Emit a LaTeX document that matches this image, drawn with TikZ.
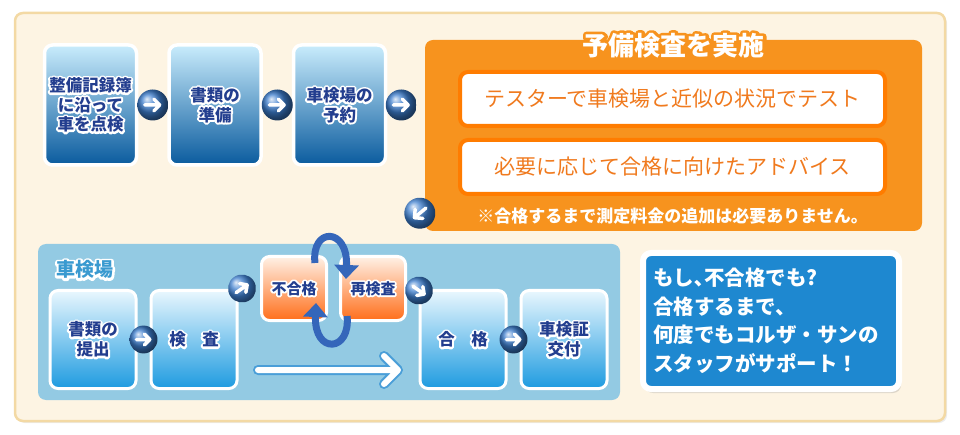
\documentclass[tikz,border=0pt]{standalone}
\usepackage{fontspec}
\newfontfamily\jp{Noto Sans CJK JP}
\newfontfamily\jphalo{Noto Sans CJK JP}[FakeBold=24]
\usetikzlibrary{positioning,calc,arrows.meta,shadows}

\definecolor{cream}{HTML}{FDF4E3}
\definecolor{creamline}{HTML}{F3D9A4}
\definecolor{panelblue}{HTML}{93CAE3}
\definecolor{navy}{HTML}{233E8F}
\definecolor{panelorange}{HTML}{F7931E}
\definecolor{lineorange}{HTML}{FF7C00}
\definecolor{textorange}{HTML}{F07A1E}
\definecolor{msgblue}{HTML}{1E88D0}
\definecolor{loopblue}{HTML}{3566BA}
\definecolor{headblue}{HTML}{3A9AD0}
\definecolor{btnblue}{HTML}{3C7DCD}
\definecolor{skipblue}{HTML}{4A9ED8}

\newcommand\halo[2][white]{\leavevmode\rlap{\color{#1}\jphalo #2}#2}

\tikzset{
  arrowbtn/.pic={
    \shade[ball color=btnblue] (0,0) circle (15.5pt);
    \draw[white, line width=3.5pt, line cap=round, line join=round]
      (-8pt,0) -- (7pt,0) (1pt,6pt) -- (7pt,0) -- (1pt,-6pt);
  },
  topbox/.style={rounded corners=8pt, draw=white, line width=3.5pt,
    top color={rgb,255:red,201;green,236;blue,252}, middle color={rgb,255:red,31;green,141;blue,214},
    bottom color={rgb,255:red,10;green,91;blue,158},
    minimum width=92pt, minimum height=120pt, align=center, text=navy,
    font=\jp\bfseries\fontsize{16.5}{19.5}\selectfont},
  lanebox/.style={rounded corners=8pt, draw=white, line width=3pt,
    top color={rgb,255:red,233;green,247;blue,254}, middle color={rgb,255:red,103;green,189;blue,235},
    bottom color={rgb,255:red,30;green,155;blue,224},
    minimum width=86pt, minimum height=98pt, align=center, text=navy,
    font=\jp\bfseries\fontsize{16.5}{20}\selectfont},
  failbox/.style={lanebox, top color={rgb,255:red,255;green,241;blue,230},
    middle color={rgb,255:red,255;green,154;blue,80}, bottom color={rgb,255:red,255;green,110;blue,26},
    minimum width=65pt, minimum height=64pt},
  testbox/.style={rounded corners=8pt, draw=lineorange, line width=4pt, fill=white,
    minimum width=425pt, minimum height=54pt, text=textorange,
    font=\jp\fontsize{21}{21}\selectfont},
  looparrow/.style={draw=loopblue, line width=7pt, -{Triangle[length=14pt, width=24pt]}},
}

\begin{document}
\begin{tikzpicture}[x=1pt, y=-1pt, >=stealth, line join=round]
  \useasboundingbox (0,0) rectangle (960,435);
  \draw[creamline, line width=2.5pt, fill=cream, rounded corners=8pt,
    drop shadow={opacity=.15, shadow xshift=2pt, shadow yshift=-2pt}] (15,13) rectangle (945,421);

  \node[topbox] (sheet) at (90.5,105) {\halo{整備記録簿}\\\halo{に沿って}\\\halo{車を点検}};
  \node[topbox, right=29pt of sheet] (docs) {\halo{書類の}\\\halo{準備}};
  \node[topbox, right=29pt of docs] (resv) {\halo{車検場の}\\\halo{予約}};

  \node[fill=panelorange, rounded corners=8pt, minimum width=497pt, minimum height=191pt] (pre) at (673.5,135.5) {};
  \node[text=white, font=\jp\bfseries\fontsize{26}{26}\selectfont] (pretitle) at ($(pre.north)+(0,6)$) {\halo[panelorange]{予備検査を実施}};
  \node[testbox] (tester) at (672.5,99) {テスターで車検場と近似の状況でテスト};
  \node[testbox, below=10pt of tester] (advice) {必要に応じて合格に向けたアドバイス};
  \node[text=white, font=\jp\bfseries\fontsize{17}{17}\selectfont] (note) at ($(advice.south)+(0,20)$) {※合格するまで測定料金の追加は必要ありません。};

  \pic at ($(sheet.east)!.5!(docs.west)$) {arrowbtn};
  \pic at ($(docs.east)!.5!(resv.west)$) {arrowbtn};
  \pic at ($(resv.east)+(14,0)$) {arrowbtn};
  \pic[rotate=-140] at ($(pre.south west)+(-5,-18)$) {arrowbtn};

  \node[fill=panelblue, rounded corners=8pt, minimum width=582pt, minimum height=156pt] (station) at (329,322) {};
  \node[text=headblue, font=\jp\bfseries\fontsize{19}{19}\selectfont] (lane) at ($(station.north west)+(47,26)$) {\halo{車検場}};

  \node[lanebox] (submit) at (93,339.5) {\halo{書類の}\\\halo{提出}};
  \node[lanebox, right=12pt of submit] (check) {\halo{検\hspace{1em}査}};
  \node[failbox, font=\jp\bfseries\fontsize{15}{15}\selectfont] (fail) at (294,288.5) {\halo{不合格}};
  \node[failbox, font=\jp\bfseries\fontsize{15}{15}\selectfont, right=11pt of fail] (retest) {\halo{再検査}};
  \node[lanebox] (pass) at (463,339.5) {\halo{合\hspace{1em}格}};
  \node[lanebox, right=12pt of pass] (cert) {\halo{車検証}\\\halo{交付}};

  \pic[scale=.9] at ($(submit.east)!.5!(check.west)$) {arrowbtn};
  \pic[scale=.9, rotate=35] at ($(fail.west)+(-18,0)$) {arrowbtn};
  \pic[scale=.9, rotate=-35] at ($(retest.east)+(12,2)$) {arrowbtn};
  \pic[scale=.9] at ($(pass.east)!.5!(cert.west)$) {arrowbtn};

  \draw[looparrow] ($(fail.north east)+(-13,8)$) .. controls +(-4,-36) and +(2,-52) .. ($(retest.north west)+(7,24)$);
  \draw[looparrow] ($(retest.south west)+(8,-6)$) .. controls +(4,36) and +(-2,52) .. ($(fail.south east)+(-12,-19)$);

  \coordinate (skipA) at (258,370);
  \coordinate (skipB) at (398,370);
  \draw[skipblue, line width=10pt, line cap=round, line join=round]
    (skipA) -- (skipB) ($(skipB)+(-14,-14)$) -- (skipB) -- ($(skipB)+(-14,14)$);
  \draw[white, line width=6pt, line cap=round, line join=round]
    (skipA) -- (skipB) ($(skipB)+(-14,-14)$) -- (skipB) -- ($(skipB)+(-14,14)$);

  \node[fill=msgblue, draw=white, line width=6pt, rounded corners=8pt, minimum width=256pt, minimum height=136pt,
    text width=236pt, inner xsep=10pt, align=left, text=white, font=\jp\bfseries\fontsize{20.5}{28.5}\selectfont,
    drop shadow={opacity=.25, shadow xshift=2pt, shadow yshift=-4pt}] (msg) at (771,321)
    {もし､不合格でも?\\合格するまで、\\何度でもコルザ・サンの\\スタッフがサポート！};
\end{tikzpicture}
\end{document}
